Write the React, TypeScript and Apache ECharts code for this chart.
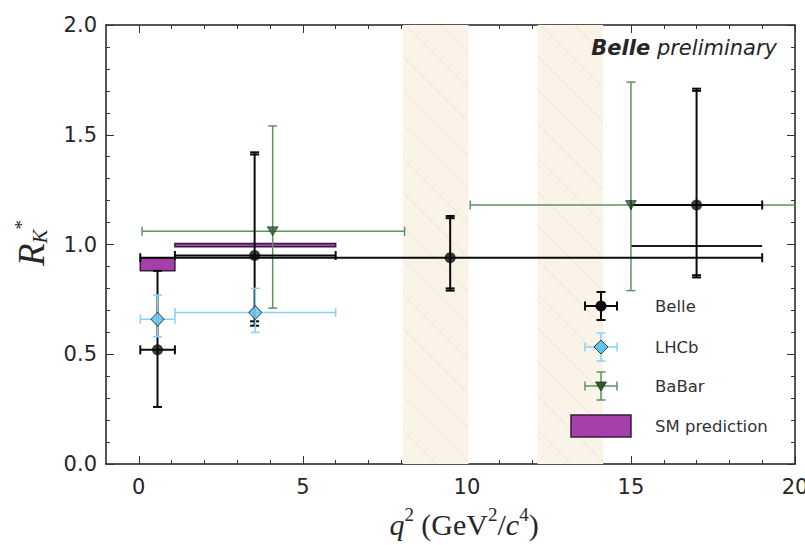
import React, { useEffect, useRef } from "react";
import * as echarts from "echarts";

// ---------- data ----------
const xTickValues = [0, 5, 10, 15, 20];
const xMinorTickValues = [1, 2, 3, 4, 6, 7, 8, 9, 11, 12, 13, 14, 16, 17, 18, 19];

const vetoLo = [8.05, 12.15];
const vetoHi = [10.05, 14.15];

const belleX = [0.57, 3.53, 9.49, 17.0];
const belleXLo = [0.045, 1.1, 0.045, 15.0];
const belleXHi = [1.1, 6.0, 19.0, 19.0];
const belleY = [0.52, 0.95, 0.94, 1.18];
const belleYLo = [0.26, 0.63, 0.79, 0.85];
const belleYHi = [0.88, 1.42, 1.13, 1.71];
const belleYLoStat = [0.26, 0.65, 0.8, 0.86];
const belleYHiStat = [0.88, 1.41, 1.12, 1.7];

const lhcbX = [0.57, 3.55];
const lhcbXLo = [0.045, 1.1];
const lhcbXHi = [1.1, 6.0];
const lhcbY = [0.66, 0.69];
const lhcbYLo = [0.58, 0.6];
const lhcbYHi = [0.77, 0.8];

const babarX = [4.08, 15.0];
const babarXLo = [0.1, 10.1];
const babarXHi = [8.1, 25.0];
const babarY = [1.06, 1.18];
const babarYLo = [0.71, 0.79];
const babarYHi = [1.54, 1.74];

const smXLo = [0.045, 1.1, 15.0];
const smXHi = [1.1, 6.0, 19.0];
const smYLo = [0.88, 0.99, 0.993];
const smYHi = [0.94, 1.005, 0.993];

const legendNames = ["Belle", "LHCb", "BaBar", "SM prediction"];

// ---------- colours ----------
const BELLE = "#0a0a0a";
const LHCB_LINE = "#8ad0fb";
const LHCB_FILL = "#5ec4f0";
const BABAR_LINE = "#5f9263";
const BABAR_FILL = "#2c5a2f";
const SM_FILL = "#a63fab";
const SM_EDGE = "#3a1c3c";
const SANS = "DejaVu Sans";
const SERIF = "Liberation Serif";

function errRender(color: string, width: number, capHalf: number) {
  return (params: any, api: any) => {
    const x = api.value(0);
    const y = api.value(1);
    const c = api.coord([x, y]);
    const xl = api.coord([api.value(2), y]);
    const xh = api.coord([api.value(3), y]);
    const yl = api.coord([x, api.value(4)]);
    const yh = api.coord([x, api.value(5)]);
    const yl2 = api.coord([x, api.value(6)]);
    const yh2 = api.coord([x, api.value(7)]);
    const style = { stroke: color, lineWidth: width };
    const ln = (x1: number, y1: number, x2: number, y2: number) => ({
      type: "line",
      shape: { x1, y1, x2, y2 },
      style,
    });
    const children: any[] = [
      ln(xl[0], c[1], xh[0], c[1]),
      ln(c[0], yl[1], c[0], yh[1]),
      ln(xl[0], c[1] - capHalf, xl[0], c[1] + capHalf),
      ln(xh[0], c[1] - capHalf, xh[0], c[1] + capHalf),
      ln(c[0] - capHalf, yl[1], c[0] + capHalf, yl[1]),
      ln(c[0] - capHalf, yh[1], c[0] + capHalf, yh[1]),
    ];
    if (Math.abs(yl2[1] - yl[1]) > 0.5) children.push(ln(c[0] - capHalf, yl2[1], c[0] + capHalf, yl2[1]));
    if (Math.abs(yh2[1] - yh[1]) > 0.5) children.push(ln(c[0] - capHalf, yh2[1], c[0] + capHalf, yh2[1]));
    return { type: "group", children };
  };
}

function legendErr(cx: number, cy: number, color: string, width: number, marker: any) {
  const style = { stroke: color, lineWidth: width };
  const hw = 16;
  const hh = 14;
  const cap = 4.5;
  const ln = (x1: number, y1: number, x2: number, y2: number) => ({
    type: "line",
    z: 100,
    shape: { x1, y1, x2, y2 },
    style,
  });
  return [
    ln(cx - hw, cy, cx + hw, cy),
    ln(cx, cy - hh, cx, cy + hh),
    ln(cx - hw, cy - cap, cx - hw, cy + cap),
    ln(cx + hw, cy - cap, cx + hw, cy + cap),
    ln(cx - cap, cy - hh, cx + cap, cy - hh),
    ln(cx - cap, cy + hh, cx + cap, cy + hh),
    { ...marker, z: 101 },
  ];
}

export default function App() {
  const ref = useRef<HTMLDivElement>(null);

  useEffect(() => {
    if (!ref.current) return;
    const chart = echarts.init(ref.current, undefined, { renderer: "svg" });

    const belleData = belleX.map((x, i) => [
      x, belleY[i], belleXLo[i], belleXHi[i], belleYLo[i], belleYHi[i], belleYLoStat[i], belleYHiStat[i],
    ]);
    const lhcbData = lhcbX.map((x, i) => [
      x, lhcbY[i], lhcbXLo[i], lhcbXHi[i], lhcbYLo[i], lhcbYHi[i], lhcbYLo[i], lhcbYHi[i],
    ]);
    const babarData = babarX.map((x, i) => [
      x, babarY[i], babarXLo[i], babarXHi[i], babarYLo[i], babarYHi[i], babarYLo[i], babarYHi[i],
    ]);
    const smData = smXLo.map((x, i) => [x, smXHi[i], smYLo[i], smYHi[i]]);
    const vetoData = vetoLo.map((x, i) => [x, vetoHi[i]]);

    const gridRect = { left: 106, right: 10, top: 25, bottom: 81, containLabel: false, outerBoundsMode: "none" };
    const axisLineStyle = { color: "#1e1e1e", width: 1.5 };
    const tickStyle = { color: "#333", width: 1 };

    const xMajor = (pos: string, labels: boolean) => ({
      type: "value",
      gridIndex: 0,
      position: pos,
      min: -1,
      max: 20,
      axisLine: { show: true, onZero: false, lineStyle: axisLineStyle },
      axisTick: { show: true, inside: true, length: 8, customValues: xTickValues, lineStyle: tickStyle },
      axisLabel: {
        show: labels,
        customValues: xTickValues,
        fontFamily: SANS,
        fontSize: 21,
        color: "#262626",
        margin: 12,
        hideOverlap: false,
      },
      splitLine: { show: false },
    });
    const xMinor = (pos: string) => ({
      type: "value",
      gridIndex: 1,
      position: pos,
      min: -1,
      max: 20,
      axisLine: { show: false, onZero: false },
      axisTick: { show: true, inside: true, length: 4, customValues: xMinorTickValues, lineStyle: tickStyle },
      axisLabel: { show: false },
      splitLine: { show: false },
    });
    const yMajor = (pos: string, labels: boolean) => ({
      type: "value",
      gridIndex: 0,
      position: pos,
      min: 0,
      max: 2,
      interval: 0.5,
      axisLine: { show: true, onZero: false, lineStyle: axisLineStyle },
      axisTick: { show: true, inside: true, length: 8, lineStyle: tickStyle },
      minorTick: { show: true, splitNumber: 5, length: 4, lineStyle: tickStyle },
      axisLabel: {
        show: labels,
        formatter: (v: number) => v.toFixed(1),
        fontFamily: SANS,
        fontSize: 21,
        color: "#262626",
        margin: 9,
      },
      splitLine: { show: false },
      minorSplitLine: { show: false },
    });

    const hatchRender = (params: any, api: any) => {
      const p0 = api.coord([api.value(0), 2]);
      const p1 = api.coord([api.value(1), 0]);
      const x0 = p0[0];
      const y0 = p0[1];
      const w = p1[0] - p0[0];
      const h = p1[1] - p0[1];
      const children: any[] = [
        { type: "rect", shape: { x: x0, y: y0, width: w, height: h }, style: { fill: "#f9f3e8" } },
      ];
      const s = 34;
      for (let c = -h; c < w; c += s) {
        const t0 = Math.max(0, -c);
        const t1 = Math.min(h, w - c);
        if (t1 > t0) {
          children.push({
            type: "line",
            shape: { x1: x0 + c + t0, y1: y0 + t0, x2: x0 + c + t1, y2: y0 + t1 },
            style: { stroke: "#f4e2cc", lineWidth: 1 },
          });
        }
      }
      return { type: "group", children };
    };

    const smRender = (params: any, api: any) => {
      const a = api.coord([api.value(0), api.value(3)]);
      const b = api.coord([api.value(1), api.value(2)]);
      const h = b[1] - a[1];
      if (h < 1) {
        return {
          type: "line",
          shape: { x1: a[0], y1: a[1], x2: b[0], y2: a[1] },
          style: { stroke: "#1a1a1a", lineWidth: 2 },
        };
      }
      return {
        type: "rect",
        shape: { x: a[0], y: a[1], width: b[0] - a[0], height: h },
        style: { fill: SM_FILL, stroke: SM_EDGE, lineWidth: 1.5 },
      };
    };

    const lx = 601;
    const legendRows = [306, 347, 386, 426];
    const graphic: any[] = [
      ...legendErr(lx, legendRows[0], BELLE, 2, {
        type: "circle", shape: { cx: lx, cy: legendRows[0], r: 5.5 }, style: { fill: BELLE },
      }),
      ...legendErr(lx, legendRows[1], LHCB_LINE, 1.5, {
        type: "polygon",
        shape: { points: [[lx, legendRows[1] - 7], [lx + 7, legendRows[1]], [lx, legendRows[1] + 7], [lx - 7, legendRows[1]]] },
        style: { fill: LHCB_FILL, stroke: "#3a3a3a", lineWidth: 1 },
      }),
      ...legendErr(lx, legendRows[2], BABAR_LINE, 1.5, {
        type: "polygon",
        shape: { points: [[lx - 5.5, legendRows[2] - 4], [lx + 5.5, legendRows[2] - 4], [lx, legendRows[2] + 5]] },
        style: { fill: BABAR_FILL, stroke: "#1f3d21", lineWidth: 0.8 },
      }),
      {
        type: "rect",
        z: 100,
        shape: { x: 571, y: 415, width: 60, height: 22 },
        style: { fill: SM_FILL, stroke: SM_EDGE, lineWidth: 1.5 },
      },
      ...legendNames.map((n, i) => ({
        type: "text",
        z: 100,
        x: 655,
        y: legendRows[i],
        style: {
          text: n,
          fontFamily: SANS,
          fontSize: 16.5,
          fill: "#333",
          verticalAlign: "middle",
        },
      })),
      {
        type: "text",
        z: 100,
        x: 777,
        y: 48,
        style: {
          text: "{b|Belle}{i| preliminary}",
          align: "right",
          verticalAlign: "middle",
          rich: {
            b: { fontFamily: SANS, fontSize: 21, fontWeight: "bold", fontStyle: "italic", fill: "#262626" },
            i: { fontFamily: SANS, fontSize: 21, fontStyle: "italic", fill: "#262626" },
          },
        },
      },
      {
        type: "text",
        z: 100,
        x: 464,
        y: 522,
        style: {
          text: "{it|q}{sup|2}{n| (GeV}{sup|2}{n|/}{it|c}{sup|4}{n|)}",
          align: "center",
          verticalAlign: "middle",
          rich: {
            it: { fontFamily: SERIF, fontStyle: "italic", fontSize: 30, lineHeight: 34, verticalAlign: "bottom", fill: "#262626" },
            n: { fontFamily: SERIF, fontSize: 30, lineHeight: 34, verticalAlign: "bottom", fill: "#262626" },
            sup: { fontFamily: SERIF, fontSize: 19, lineHeight: 19, verticalAlign: "top", fill: "#262626" },
          },
        },
      },
      {
        type: "text",
        z: 100,
        x: 31,
        y: 243,
        rotation: Math.PI / 2,
        style: {
          text: "{r|R}{k|K}{s|*}",
          align: "center",
          verticalAlign: "middle",
          rich: {
            r: { fontFamily: SERIF, fontStyle: "italic", fontSize: 37, lineHeight: 38, verticalAlign: "middle", fill: "#262626" },
            k: { fontFamily: SERIF, fontStyle: "italic", fontSize: 21, lineHeight: 20, verticalAlign: "bottom", fill: "#262626" },
            s: { fontFamily: SERIF, fontSize: 19, lineHeight: 18, verticalAlign: "top", fill: "#262626" },
          },
        },
      },
    ];

    chart.setOption({
      animation: false,
      backgroundColor: "#ffffff",
      grid: [{ ...gridRect }, { ...gridRect }],
      xAxis: [xMajor("bottom", true), xMajor("top", false), xMinor("bottom"), xMinor("top")],
      yAxis: [
        yMajor("left", true),
        yMajor("right", false),
        { type: "value", gridIndex: 1, min: 0, max: 2, show: false },
      ],
      graphic,
      series: [
        {
          type: "custom",
          name: "veto",
          xAxisIndex: 0,
          yAxisIndex: 0,
          renderItem: hatchRender,
          data: vetoData,
          encode: { x: [0, 1] },
          silent: true,
          z: 1,
        },
        {
          type: "custom",
          name: "SM prediction",
          xAxisIndex: 0,
          yAxisIndex: 0,
          renderItem: smRender,
          data: smData,
          encode: { x: [0, 1], y: [2, 3] },
          z: 2,
        },
        {
          type: "custom",
          name: "BaBar",
          xAxisIndex: 0,
          yAxisIndex: 0,
          renderItem: errRender(BABAR_LINE, 1.5, 4.5),
          data: babarData,
          encode: { x: [0, 2, 3], y: [1, 4, 5] },
          clip: true,
          z: 3,
        },
        {
          type: "custom",
          name: "Belle",
          xAxisIndex: 0,
          yAxisIndex: 0,
          renderItem: errRender(BELLE, 2, 4.5),
          data: belleData,
          encode: { x: [0, 2, 3], y: [1, 4, 5] },
          clip: true,
          z: 4,
        },
        {
          type: "custom",
          name: "LHCb",
          xAxisIndex: 0,
          yAxisIndex: 0,
          renderItem: errRender(LHCB_LINE, 1.5, 4.5),
          data: lhcbData,
          encode: { x: [0, 2, 3], y: [1, 4, 5] },
          clip: true,
          z: 5,
        },
        {
          type: "scatter",
          name: "BaBar marker",
          xAxisIndex: 0,
          yAxisIndex: 0,
          symbol: "triangle",
          symbolRotate: 180,
          symbolSize: [11, 9],
          itemStyle: { color: BABAR_FILL, borderColor: "#1f3d21", borderWidth: 0.8 },
          data: babarX.map((x, i) => [x, babarY[i]]),
          z: 6,
        },
        {
          type: "scatter",
          name: "Belle marker",
          xAxisIndex: 0,
          yAxisIndex: 0,
          symbol: "circle",
          symbolSize: 11,
          itemStyle: { color: BELLE },
          data: belleX.map((x, i) => [x, belleY[i]]),
          z: 7,
        },
        {
          type: "scatter",
          name: "LHCb marker",
          xAxisIndex: 0,
          yAxisIndex: 0,
          symbol: "diamond",
          symbolSize: [13, 14],
          itemStyle: { color: LHCB_FILL, borderColor: "#3a3a3a", borderWidth: 1 },
          data: lhcbX.map((x, i) => [x, lhcbY[i]]),
          z: 8,
        },
      ],
    });

    return () => chart.dispose();
  }, []);

  return (
    <div
      ref={ref}
      style={{ position: "absolute", left: 0, top: 0, width: 805, height: 545 }}
    />
  );
}
